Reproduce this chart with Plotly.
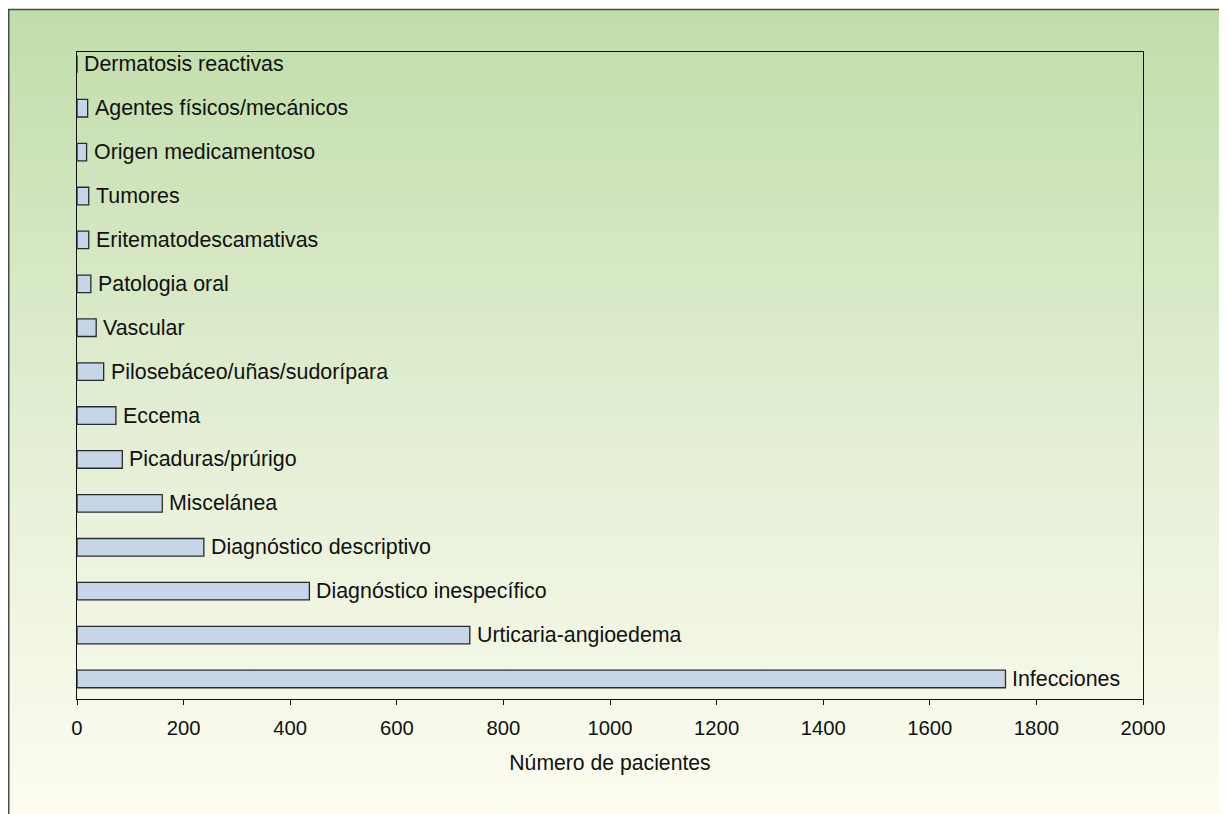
import base64
import plotly.graph_objects as go

# Data (top-to-bottom as in the picture)
categories = [
    "Dermatosis reactivas",
    "Agentes físicos/mecánicos",
    "Origen medicamentoso",
    "Tumores",
    "Eritematodescamativas",
    "Patologia oral",
    "Vascular",
    "Pilosebáceo/uñas/sudorípara",
    "Eccema",
    "Picaduras/prúrigo",
    "Miscelánea",
    "Diagnóstico descriptivo",
    "Diagnóstico inespecífico",
    "Urticaria-angioedema",
    "Infecciones",
]
values = [0, 20, 18, 22, 22, 26, 36, 50, 73, 85, 160, 238, 436, 737, 1742]
x_ticks = [0, 200, 400, 600, 800, 1000, 1200, 1400, 1600, 1800, 2000]
x_title = "Número de pacientes"

# page body has an 8px margin
W, H = 1219, 806
L, R, T, B = 69, 84, 44, 115
pw, ph = W - L - R, H - T - B

cats_bottom_up = categories[::-1]
vals_bottom_up = values[::-1]

FONT = "Liberation Sans, Arial, Helvetica, sans-serif"

fig = go.Figure()
fig.add_trace(go.Bar(
    x=vals_bottom_up,
    y=cats_bottom_up,
    orientation="h",
    width=0.4,
    marker=dict(color="#c6d5e8", line=dict(color="#2b2b2b", width=1.3)),
    hoverinfo="x+y",
    showlegend=False,
))

annotations = []
for c, v in zip(categories, values):
    annotations.append(dict(
        x=v, y=c, xref="x", yref="y", text=c, showarrow=False,
        xanchor="left", yanchor="middle", xshift=5,
        font=dict(family=FONT, size=21.4, color="#111111"),
    ))

# Gradient background as an SVG image
svg = (
    '<svg xmlns="http://www.w3.org/2000/svg" width="100" height="100" preserveAspectRatio="none">'
    '<defs><linearGradient id="g" x1="0" y1="0" x2="0" y2="1">'
    '<stop offset="0" stop-color="#c1dda9"/>'
    '<stop offset="0.5" stop-color="#e2eed3"/>'
    '<stop offset="1" stop-color="#fefdf1"/>'
    '</linearGradient></defs>'
    '<rect width="100" height="100" fill="url(#g)"/></svg>'
)
src = "data:image/svg+xml;base64," + base64.b64encode(svg.encode()).decode()

x0p = (0.75 - L) / pw
y1p = 1 + (T - 1.5) / ph

fig.update_layout(
    width=W, height=H,
    margin=dict(l=L, r=R, t=T, b=B, pad=0),
    paper_bgcolor="white",
    plot_bgcolor="rgba(0,0,0,0)",
    font=dict(family=FONT, size=20, color="#111111"),
    annotations=annotations,
    images=[dict(
        source=src, xref="paper", yref="paper",
        x=x0p, y=y1p, sizex=(W + 5) / pw, sizey=(H + 5) / ph,
        xanchor="left", yanchor="top", sizing="stretch", layer="below",
    )],
    shapes=[dict(
        type="rect", xref="paper", yref="paper",
        x0=x0p, y0=-0.5, x1=1.5, y1=y1p,
        line=dict(color="#4a4a4a", width=1.5), fillcolor="rgba(0,0,0,0)",
        layer="below",
    )],
    xaxis=dict(
        range=[0, 2000], tickvals=x_ticks, ticktext=[str(t) for t in x_ticks],
        ticks="outside", ticklen=5, tickwidth=1.2, tickcolor="#111111",
        showline=True, linecolor="#111111", linewidth=1.3, mirror=True,
        showgrid=False, zeroline=False,
        tickfont=dict(size=20.3), ticklabelstandoff=5,
        title=dict(text=x_title, font=dict(size=21.2), standoff=17),
    ),
    yaxis=dict(
        type="category", categoryorder="array", categoryarray=cats_bottom_up,
        range=[-0.456, 14.28],
        showticklabels=False, ticks="",
        showline=True, linecolor="#111111", linewidth=1.3, mirror=True,
        showgrid=False, zeroline=False,
    ),
)

fig.write_html("out.html")
